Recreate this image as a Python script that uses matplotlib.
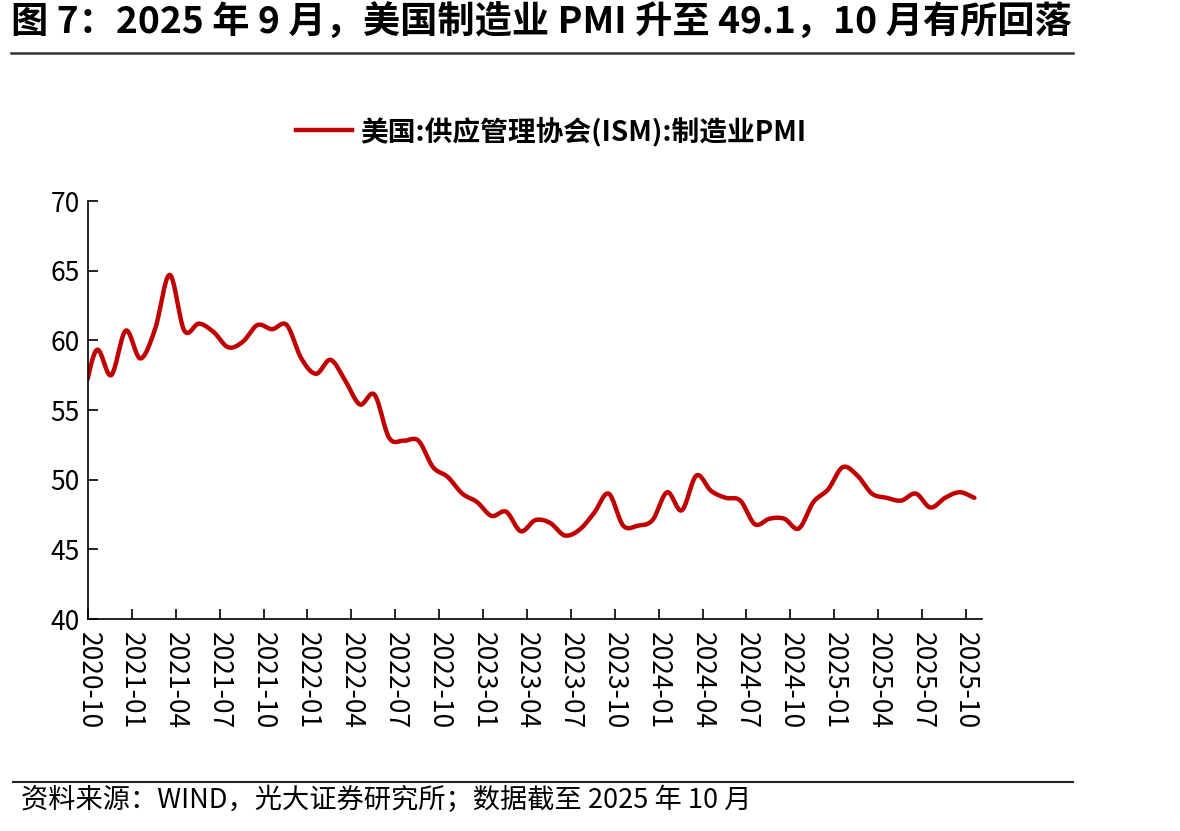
import matplotlib
matplotlib.use("Agg")
import matplotlib.pyplot as plt
import numpy as np
from matplotlib.lines import Line2D

plt.rcParams['font.family'] = ['Noto Sans CJK SC', 'DejaVu Sans']
plt.rcParams['axes.unicode_minus'] = False

# ISM manufacturing PMI, monthly from 2020-09 to 2025-10
pmi = [55.4,
       59.3, 57.5, 60.7,
       58.7, 60.8, 64.7, 60.7, 61.2, 60.6, 59.5, 59.9, 61.1, 60.8, 61.1, 58.7,
       57.6, 58.6, 57.1, 55.4, 56.1, 53.0, 52.8, 52.8, 50.9, 50.2, 49.0, 48.4,
       47.4, 47.7, 46.3, 47.1, 46.9, 46.0, 46.4, 47.6, 49.0, 46.7, 46.7, 47.1,
       49.1, 47.8, 50.3, 49.2, 48.7, 48.5, 46.8, 47.2, 47.2, 46.5, 48.4, 49.3,
       50.9, 50.3, 49.0, 48.7, 48.5, 49.0, 48.0, 48.7, 49.1, 48.7]
tick_labels = ['2020-10', '2021-01', '2021-04', '2021-07', '2021-10',
               '2022-01', '2022-04', '2022-07', '2022-10', '2023-01',
               '2023-04', '2023-07', '2023-10', '2024-01', '2024-04',
               '2024-07', '2024-10', '2025-01', '2025-04', '2025-07', '2025-10']
series_name = '美国:供应管理协会(ISM):制造业PMI'
red = '#C00000'

# month index: 0 = 2020-10; data points sit a bit after the month tick
x = np.arange(len(pmi)) - 1 + 0.58
y = np.array(pmi)


def smooth(xs, ys, n=20):
    # catmull-rom curve through the points (like the excel smoothed line)
    px = np.concatenate([[2 * xs[0] - xs[1]], xs, [2 * xs[-1] - xs[-2]]])
    py = np.concatenate([[2 * ys[0] - ys[1]], ys, [2 * ys[-1] - ys[-2]]])
    t = np.linspace(0, 1, n, endpoint=False)
    out_x, out_y = [], []
    for i in range(1, len(px) - 2):
        for p, out in ((px, out_x), (py, out_y)):
            p0, p1, p2, p3 = p[i - 1], p[i], p[i + 1], p[i + 2]
            out.extend(0.5 * (2 * p1 + (-p0 + p2) * t
                              + (2 * p0 - 5 * p1 + 4 * p2 - p3) * t ** 2
                              + (-p0 + 3 * p1 - 3 * p2 + p3) * t ** 3))
    out_x.append(xs[-1])
    out_y.append(ys[-1])
    return np.array(out_x), np.array(out_y)


sx, sy = smooth(x, y)

fig = plt.figure(figsize=(11.8, 8.31), dpi=100)
ax = fig.add_axes([0.0746, 0.2551, 0.7576, 0.5030])
ax.plot(sx, sy, color=red, linewidth=3.2, solid_capstyle='round')

ax.set_xlim(0, 61.1)
ax.set_ylim(40, 70)
ax.set_yticks(np.arange(40, 71, 5))
ax.set_xticks(np.arange(0, 61, 3))
ax.set_xticklabels(tick_labels, rotation=270, fontsize=19)
ax.tick_params(axis='y', labelsize=19, direction='in', length=7, width=1.2, pad=6)
ax.tick_params(axis='x', direction='in', length=7, width=1.2, pad=9)
for s in ['top', 'right']:
    ax.spines[s].set_visible(False)
for s in ['left', 'bottom']:
    ax.spines[s].set_linewidth(1.2)

# legend
handle = Line2D([], [], color=red, linewidth=3.2)
fig.legend([handle], [series_name], loc='center', bbox_to_anchor=(0.467, 0.842),
           frameon=False, handlelength=2.0, handletextpad=0.3,
           prop={'size': 20, 'weight': 'bold'})

# title and footer
fig.text(0.009, 0.994, '图 7：2025 年 9 月，美国制造业 PMI 升至 49.1，10 月有所回落',
         fontsize=26.8, fontweight='bold', va='top', ha='left')
fig.add_artist(Line2D([0.009, 0.909], [0.936, 0.936], color='#333333', linewidth=1.8))
fig.add_artist(Line2D([0.011, 0.909], [0.059, 0.059], color='#222222', linewidth=1.5))
fig.text(0.018, 0.037, '资料来源：WIND，光大证券研究所；数据截至 2025 年 10 月',
         fontsize=19.6, va='center', ha='left')

fig.savefig('out.png', dpi=100)
